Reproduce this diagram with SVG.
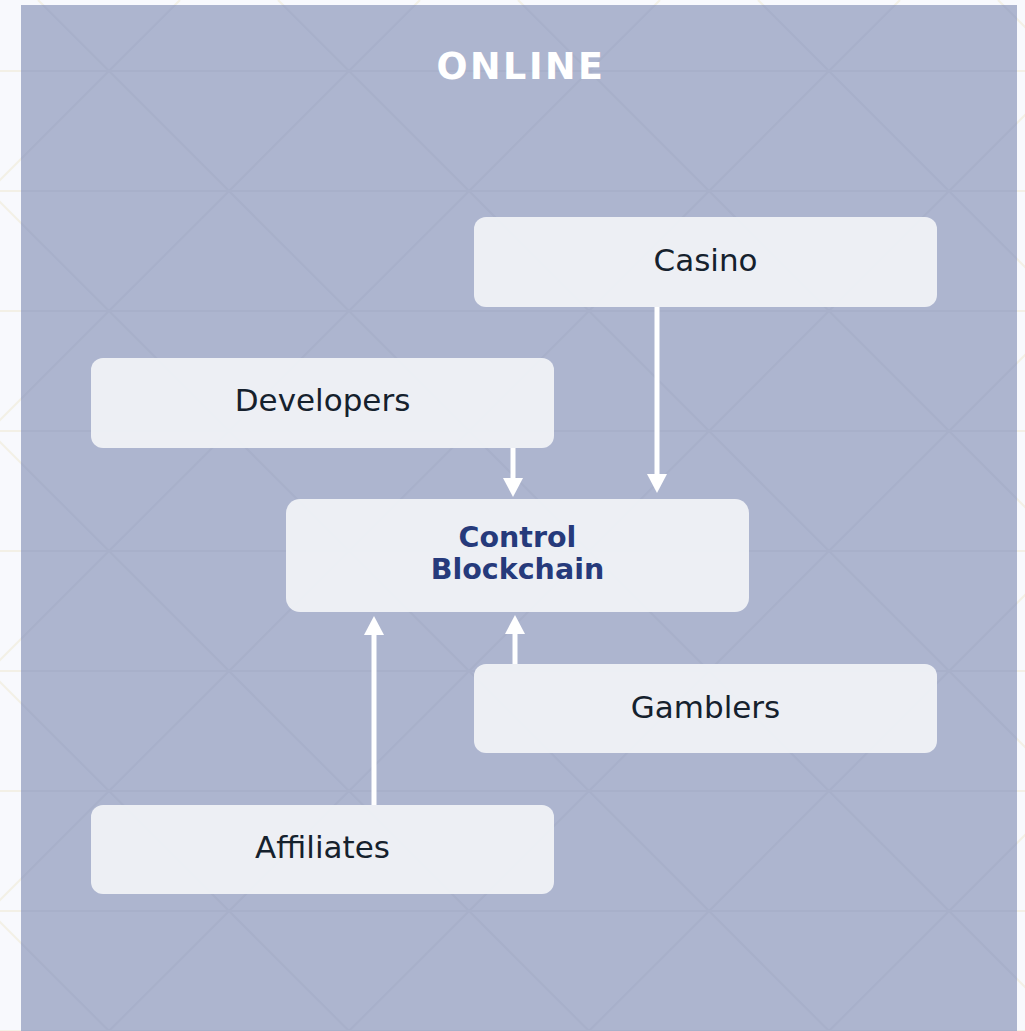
<svg xmlns="http://www.w3.org/2000/svg" width="1025" height="1031" viewBox="0 0 1025 1031">
  <defs>
    <style>
      .node rect { fill: #eef0f5; fill-opacity: 0.98; }
      .label { font-family: "DejaVu Sans", "Open Sans", sans-serif; font-size: 31px; fill: #15212d; text-anchor: middle; }
      .core { font-family: "DejaVu Sans", "Open Sans", sans-serif; font-size: 28.5px; font-weight: 700; fill: #263a7b; text-anchor: middle; }
      .title { font-family: "DejaVu Sans", "Open Sans", sans-serif; font-size: 36.5px; font-weight: 700; letter-spacing: 2.5px; fill: #ffffff; text-anchor: middle; }
      .edge { stroke: #ffffff; stroke-width: 5; fill: none; marker-end: url(#head); }
      .grid { fill: none; stroke-width: 2; }
    </style>
    <marker id="head" markerUnits="userSpaceOnUse" markerWidth="20" markerHeight="20" refX="0" refY="10" orient="auto" viewBox="0 0 20 20">
      <path d="M0,0 L19,10 L0,20 Z" fill="#ffffff"/>
    </marker>
    <path id="gridpath" d="M0,71 H1025 M0,191 H1025 M0,311 H1025 M0,431 H1025 M0,551 H1025 M0,671 H1025 M0,791 H1025 M0,911 H1025 M0,1031 H1025
      M-922,0 l1031,1031 M-682,0 l1031,1031 M-442,0 l1031,1031 M-202,0 l1031,1031 M38,0 l1031,1031 M278,0 l1031,1031 M518,0 l1031,1031 M758,0 l1031,1031 M998,0 l1031,1031
      M-60,0 l-1031,1031 M180,0 l-1031,1031 M420,0 l-1031,1031 M660,0 l-1031,1031 M900,0 l-1031,1031 M1140,0 l-1031,1031 M1380,0 l-1031,1031 M1620,0 l-1031,1031 M1860,0 l-1031,1031"/>
    <clipPath id="panelclip"><rect x="21" y="5" width="996" height="1026"/></clipPath>
  </defs>

  <g id="background">
    <rect x="0" y="0" width="1025" height="1031" fill="#f8f9fd"/>
    <use href="#gridpath" class="grid" stroke="#f3f0e6"/>
    <rect x="21" y="5" width="996" height="1026" fill="#adb5cf"/>
    <use href="#gridpath" class="grid" stroke="#a8b0ca" clip-path="url(#panelclip)"/>
    <text class="title" x="521" y="79">ONLINE</text>
  </g>

  <g id="connectors">
    <line class="edge" x1="513" y1="448" x2="513" y2="478"/>
    <line class="edge" x1="657" y1="307" x2="657" y2="474"/>
    <line class="edge" x1="374" y1="805" x2="374" y2="635"/>
    <line class="edge" x1="515" y1="664" x2="515" y2="634"/>
  </g>

  <g id="casino" class="node">
    <rect x="474" y="217" width="463" height="90" rx="12"/>
    <text class="label" x="705.5" y="271">Casino</text>
  </g>
  <g id="developers" class="node">
    <rect x="91" y="358" width="463" height="90" rx="12"/>
    <text class="label" x="322.5" y="411">Developers</text>
  </g>
  <g id="control-blockchain" class="node">
    <rect x="286" y="499" width="463" height="113" rx="14"/>
    <text class="core" x="517.5" y="547">Control<tspan x="517.5" dy="32">Blockchain</tspan></text>
  </g>
  <g id="gamblers" class="node">
    <rect x="474" y="664" width="463" height="89" rx="12"/>
    <text class="label" x="705.5" y="718">Gamblers</text>
  </g>
  <g id="affiliates" class="node">
    <rect x="91" y="805" width="463" height="89" rx="12"/>
    <text class="label" x="322.5" y="858">Affiliates</text>
  </g>
</svg>
